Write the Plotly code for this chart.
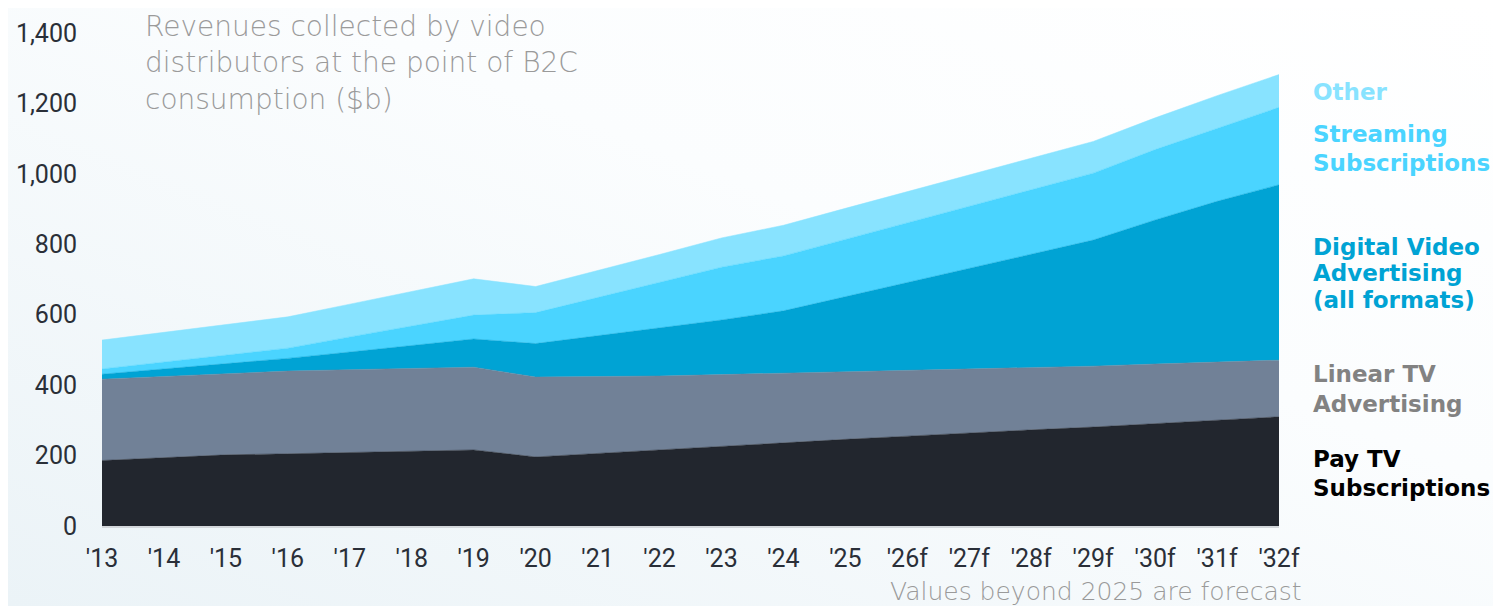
import plotly.graph_objects as go

years = list(range(2013, 2033))
year_labels = ["'13", "'14", "'15", "'16", "'17", "'18", "'19", "'20", "'21", "'22",
               "'23", "'24", "'25", "'26f", "'27f", "'28f", "'29f", "'30f", "'31f", "'32f"]

pay_tv = [186, 194, 202, 205, 208, 211, 216, 196, 206, 216, 228, 237, 246, 255, 265, 273, 281, 291, 300, 310]
linear_tv = [231, 231, 230, 235, 236, 237, 235, 227, 218, 210, 202, 197, 191, 186, 180, 178, 173, 169, 165, 161]
digital_video = [14, 21, 29, 36, 50, 64, 80, 95, 116, 137, 155, 177, 214, 250, 287, 321, 358, 409, 457, 498]
streaming = [15, 20, 25, 29, 43, 57, 68, 88, 109, 129, 150, 156, 163, 171, 177, 184, 190, 200, 208, 220]
other = [82, 84, 86, 89, 93, 98, 103, 74, 76, 79, 83, 87, 88, 88, 89, 89, 90, 90, 92, 93]

y_ticks = [0, 200, 400, 600, 800, 1000, 1200, 1400]

# the page body adds an 8px margin, so shift the figure's inner layout by that much
OFF = 8
W, H = 1493, 598
L, T = 94, 25
R, B = W - 1271, H - 518
pw, ph = W - L - R, H - T - B

series = [
    ("Pay TV", pay_tv, "#22262e"),
    ("Linear TV", linear_tv, "#718197"),
    ("Digital Video", digital_video, "#00a3d4"),
    ("Streaming", streaming, "#4ad4ff"),
    ("Other", other, "#88e3ff"),
]

fig = go.Figure()
for name, vals, col in series:
    fig.add_trace(go.Scatter(x=years, y=vals, name=name, stackgroup="one", mode="lines",
                             line=dict(width=0.5, color=col), fillcolor=col, showlegend=False))

# soft background gradient
svg = ("data:image/svg+xml;utf8,<svg xmlns='http://www.w3.org/2000/svg' width='100' height='100' "
       "preserveAspectRatio='none'><defs><linearGradient id='g' x1='0' y1='1' x2='1' y2='0'>"
       "<stop offset='0' stop-color='%23ebf3f7'/><stop offset='0.6' stop-color='%23fbfdfe'/>"
       "<stop offset='1' stop-color='%23ffffff'/></linearGradient></defs>"
       "<rect width='100' height='100' fill='url(%23g)'/></svg>")
fig.add_layout_image(dict(source=svg, xref="paper", yref="paper",
                          x=-L / pw, y=1 + T / ph, sizex=W / pw, sizey=H / ph,
                          xanchor="left", yanchor="top", sizing="stretch", layer="below"))

fig.update_layout(
    width=W, height=H,
    margin=dict(l=L, r=R, t=T, b=B),
    paper_bgcolor="white", plot_bgcolor="rgba(0,0,0,0)",
    font=dict(family="Roboto", color="#2a2f38"),
)
fig.update_xaxes(range=[2013, 2032], tickvals=years, ticktext=year_labels, automargin=False,
                 showgrid=False, zeroline=False, showline=True, linecolor="#d3d7db", linewidth=2,
                 tickfont=dict(size=25, color="#2a2f38"), ticklabelstandoff=9, ticks="")
fig.update_yaxes(range=[0, 1400], tickvals=y_ticks, tickformat=",", automargin=False,
                 showgrid=False, zeroline=False, showline=False,
                 tickfont=dict(size=25, color="#2a2f38"), ticklabelstandoff=24, ticks="")

def py(ypage):
    return (H - B - (ypage - OFF)) / ph

def px(xpage):
    return (xpage - OFF - L) / pw

fig.add_annotation(text="Revenues collected by video<br>distributors at the point of B2C<br>consumption ($b)",
                   xref="paper", yref="paper", x=px(143), y=py(8), xanchor="left", yanchor="top",
                   align="left", showarrow=False,
                   font=dict(family="DejaVu Sans", size=28, weight=200, color="#9a9a9a"))

fig.add_annotation(text="Values beyond 2025 are forecast", xref="paper", yref="paper",
                   x=px(1304), y=py(591), xanchor="right", yanchor="middle", showarrow=False,
                   font=dict(family="DejaVu Sans", size=25, weight=200, color="#9a9a9a"))

# series labels on the right, one line at a time to keep the tight leading
label_lines = [
    ("Other", 92, "#88e3ff"),
    ("Streaming", 134, "#4ad4ff"),
    ("Subscriptions", 163, "#4ad4ff"),
    ("Digital Video", 247, "#00a3d4"),
    ("Advertising", 273, "#00a3d4"),
    ("(all formats)", 300, "#00a3d4"),
    ("Linear TV", 374, "#828282"),
    ("Advertising", 404, "#828282"),
    ("Pay TV", 459, "#000000"),
    ("Subscriptions", 488, "#000000"),
]
for txt, ypix, col in label_lines:
    fig.add_annotation(text=txt, xref="paper", yref="paper", x=px(1311), y=py(ypix),
                       xanchor="left", yanchor="middle", align="left", showarrow=False,
                       font=dict(family="DejaVu Sans", size=23, weight="bold", color=col))

fig.write_html("out.html")
